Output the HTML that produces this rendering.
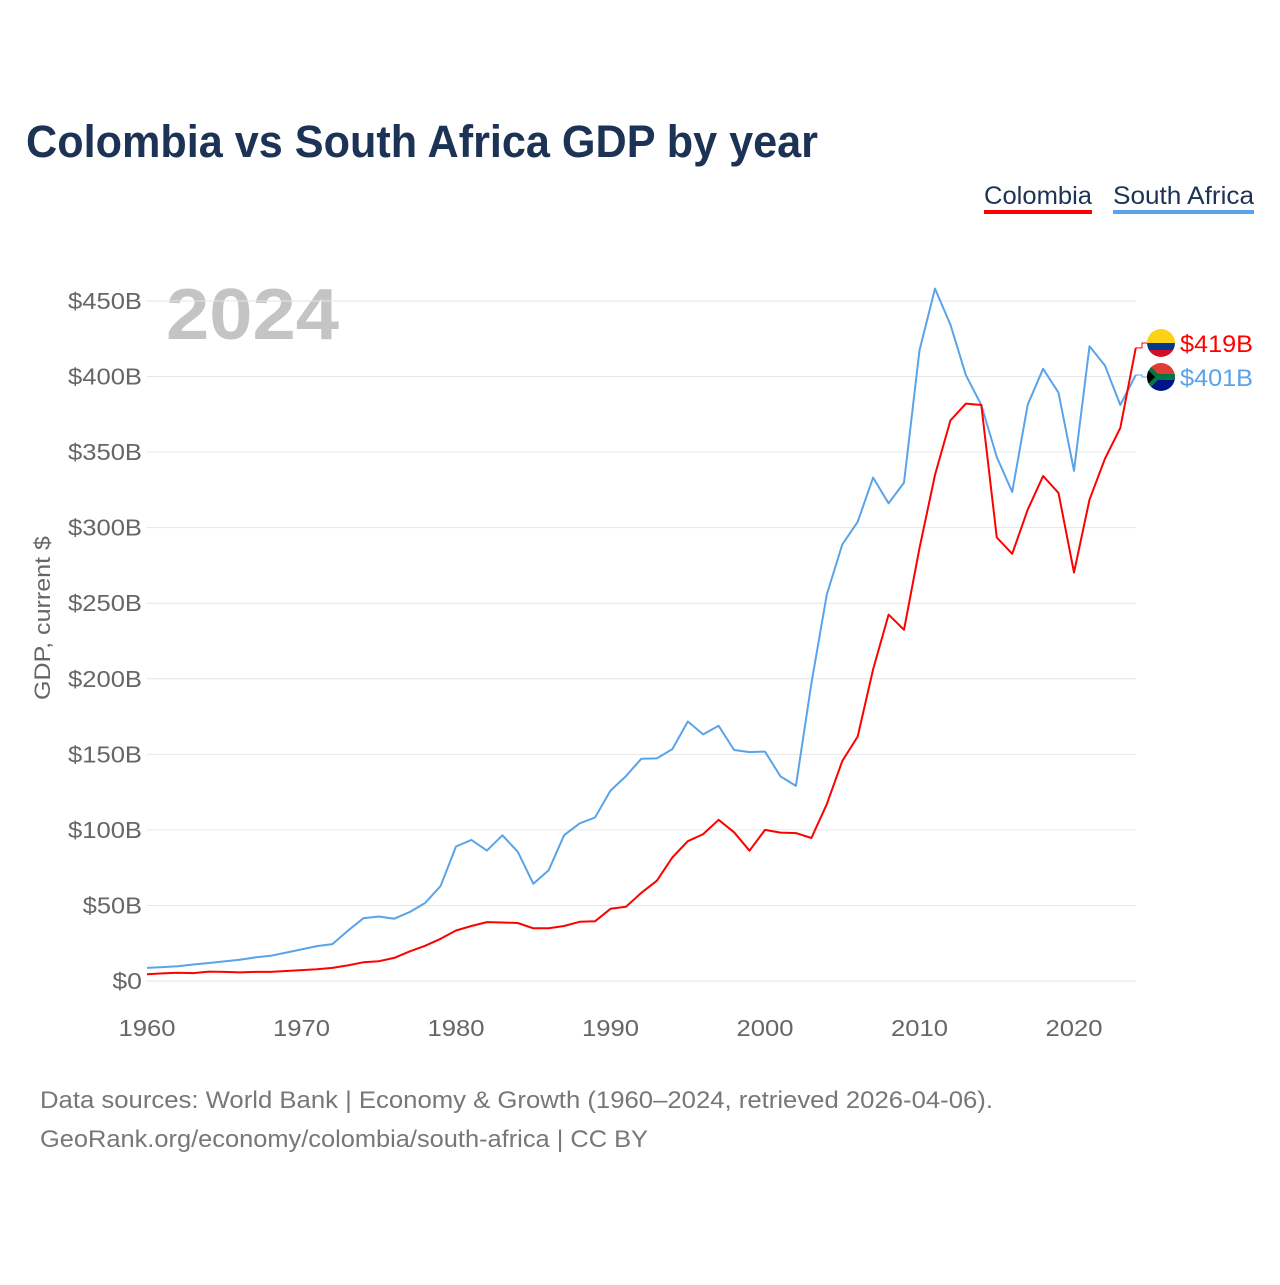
<!DOCTYPE html>
<html><head><meta charset="utf-8">
<style>
body{margin:0;background:#fff;font-family:"Liberation Sans",sans-serif;}
#wrap{position:relative;width:1280px;height:1280px;}
</style></head>
<body><div id="wrap">
<svg id="chart" width="1280" height="1280">
<text x="26" y="157" font-size="45" font-weight="bold" fill="#1c3355" textLength="792" lengthAdjust="spacingAndGlyphs">Colombia vs South Africa GDP by year</text>
<g>
<text x="984" y="204" font-size="25" fill="#1c3355" textLength="108" lengthAdjust="spacingAndGlyphs">Colombia</text>
<rect x="984" y="210" width="108" height="4" fill="#ff0000"/></g>
<g>
<text x="1113" y="204" font-size="25" fill="#1c3355" textLength="141" lengthAdjust="spacingAndGlyphs">South Africa</text>
<rect x="1113" y="210" width="141" height="4" fill="#5ba3e8"/></g>
<text x="166" y="339" font-size="72" font-weight="bold" fill="#c4c4c4" textLength="173" lengthAdjust="spacingAndGlyphs">2024</text>
<text transform="translate(50,618) rotate(-90)" text-anchor="middle" font-size="22" fill="#666" textLength="164" lengthAdjust="spacingAndGlyphs">GDP, current $</text>
<g id="grid"></g><g id="yt"></g><g id="xt"></g><g id="lines"></g><g id="ends"></g>
<text x="40" y="1108" font-size="24" fill="#777" textLength="953" lengthAdjust="spacingAndGlyphs">Data sources: World Bank | Economy &amp; Growth (1960–2024, retrieved 2026-04-06).</text>
<text x="40" y="1147" font-size="24" fill="#777" textLength="608" lengthAdjust="spacingAndGlyphs">GeoRank.org/economy/colombia/south-africa | CC BY</text>
</svg></div>
<script>
const years=[];for(let y=1960;y<=2024;y++)years.push(y);
const colombia=[4.5,5.0,5.4,5.2,6.2,6.0,5.7,6.0,6.0,6.6,7.2,7.8,8.7,10.3,12.4,13.1,15.3,19.6,23.3,27.9,33.4,36.4,39.0,38.7,38.4,34.9,34.9,36.4,39.2,39.5,47.8,49.2,58.4,66.4,81.7,92.5,97.2,106.7,98.4,86.2,100,98.2,97.9,94.6,117,145.6,161.8,206.2,242.5,232.4,286.5,334.9,370.9,382.1,381.2,293.5,282.7,311.9,334.2,323,270.3,318.5,345.6,366,419];
const southAfrica=[8.7,9.2,9.8,10.9,11.9,13.0,14.1,15.6,16.7,18.8,20.9,23.1,24.4,33.3,41.5,42.7,41.2,45.6,51.6,62.9,89,93.4,86.3,96.4,85.5,64.4,73.3,96.5,104.3,108.2,126,135.6,147.1,147.3,153.4,171.7,163.2,168.9,152.9,151.5,151.8,135.4,129.1,197,255.8,288.9,303.9,333.1,316.1,329.8,417.4,458.2,434.4,400.9,381.2,346.7,323.6,381.4,405.1,389.3,337.6,420.1,407.3,381.2,401];
const yTicks=[0,50,100,150,200,250,300,350,400,450];
const yTickLabels=["$0","$50B","$100B","$150B","$200B","$250B","$300B","$350B","$400B","$450B"];
const xTicks=[1960,1970,1980,1990,2000,2010,2020];
const NS="http://www.w3.org/2000/svg";
const X=y=>147+(y-1960)*(1074-147)/60;
const Y=v=>981-v*(981-301)/450;
function mk(t,a,p){const e=document.createElementNS(NS,t);for(const k in a)e.setAttribute(k,a[k]);p.appendChild(e);return e;}
const grid=document.getElementById('grid'),yt=document.getElementById('yt'),xt=document.getElementById('xt');
yTicks.forEach((v,i)=>{
 const l=mk('line',{x1:147,x2:1136,y1:Y(v),y2:Y(v),stroke:'#e6e6e6','stroke-width':1},grid);
 
 
 const t=mk('text',{x:142,y:Y(v)+8,'text-anchor':'end','font-size':23,fill:'#666'},yt);
 t.textContent=yTickLabels[i];
 t.setAttribute('textLength',yTickLabels[i].length*14.8);
 t.setAttribute('lengthAdjust','spacingAndGlyphs');
 
 
});
xTicks.forEach(y=>{
 const t=mk('text',{x:X(y),y:1036,'text-anchor':'middle','font-size':23,fill:'#666',textLength:57,lengthAdjust:'spacingAndGlyphs'},xt);
 t.textContent=y;
 
 
});
const lines=document.getElementById('lines');
function series(vals,col,name){
 const d=vals.map((v,i)=>(i?'L':'M')+X(years[i]).toFixed(1)+','+Y(v).toFixed(1)).join('');
 const p=mk('path',{d:d,fill:'none',stroke:col,'stroke-width':2,'stroke-linejoin':'round'},lines);
 
 
}
series(southAfrica,'#5ba3e8','south-africa-line');
series(colombia,'#ff0000','colombia-line');
const ends=document.getElementById('ends');
function end(v,ly,col,name,flag){
 const ex=X(2024);
 mk('path',{d:`M${ex},${Y(v)}H1142V${ly}H1148`,fill:'none',stroke:col,'stroke-width':1},ends);
 const g=mk('g',{},ends);
 
 
 const cx=1161;
 const cp=mk('clipPath',{id:'c'+name},g);mk('circle',{cx:cx,cy:ly,r:14},cp);
 const fg=mk('g',{'clip-path':`url(#c${name})`},g);
 if(flag==='co'){mk('rect',{x:cx-14,y:ly-14,width:28,height:14,fill:'#fcd116'},fg);mk('rect',{x:cx-14,y:ly,width:28,height:7,fill:'#003893'},fg);mk('rect',{x:cx-14,y:ly+7,width:28,height:7,fill:'#ce1126'},fg);}
 else{mk('rect',{x:cx-14,y:ly-14,width:28,height:14,fill:'#e03c31'},fg);mk('rect',{x:cx-14,y:ly,width:28,height:14,fill:'#001489'},fg);mk('path',{d:`M${cx-14},${ly-14}L${cx},${ly}L${cx-14},${ly+14}Z`,fill:'#007749'},fg);mk('rect',{x:cx-4,y:ly-3,width:18,height:6,fill:'#007749'},fg);mk('path',{d:`M${cx-14},${ly-8}L${cx-6},${ly}L${cx-14},${ly+8}Z`,fill:'#000'},fg);}
 const t=mk('text',{x:1180,y:ly+9,'font-size':24,fill:col,textLength:73,lengthAdjust:'spacingAndGlyphs'},g);
 t.textContent='$'+Math.round(v)+'B';
}
end(colombia[colombia.length-1],343,'#ff0000','end-label-colombia','co');
end(southAfrica[southAfrica.length-1],377,'#5ba3e8','end-label-south-africa','za');
</script>
</body></html>
